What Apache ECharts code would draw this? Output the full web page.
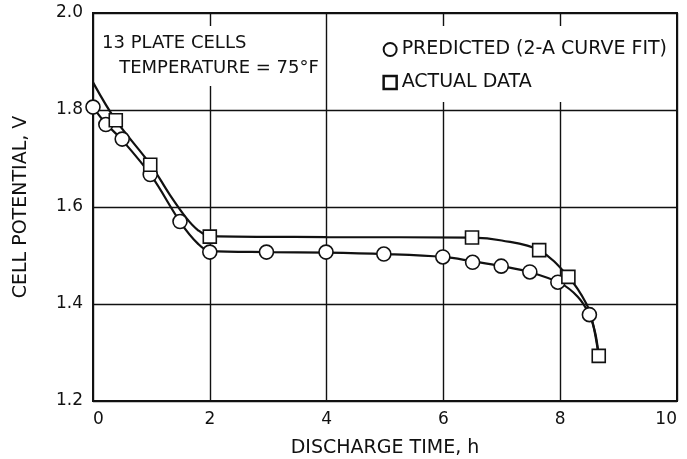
<!DOCTYPE html>
<html>
<head>
<meta charset="utf-8">
<script src="https://cdn.jsdelivr.net/npm/echarts@6/dist/echarts.min.js"></script>
<style>
  html, body { margin: 0; padding: 0; background: #fff; }
  #main { width: 687px; height: 459px; }
</style>
</head>
<body>
<div id="main"></div>
<script>
var predictedPoints = [
    [0.0, 1.806], [0.22, 1.770], [0.5, 1.740], [0.98, 1.667], [1.49, 1.570],
    [2.0, 1.507], [2.97, 1.507], [3.99, 1.507], [4.98, 1.503], [5.99, 1.497],
    [6.5, 1.486], [6.99, 1.478], [7.48, 1.466], [7.96, 1.445], [8.5, 1.378]
];
var actualPoints = [
    [0.39, 1.779], [0.98, 1.687], [2.0, 1.539], [6.49, 1.537],
    [7.64, 1.511], [8.14, 1.456], [8.66, 1.293]
];
// fitted curves
var predictedCurve = [
    [0.0, 1.806], [0.22, 1.772], [0.5, 1.738], [1.0, 1.664], [1.5, 1.568],
    [1.8, 1.524], [2.0, 1.509], [3.0, 1.507], [4.0, 1.506], [5.0, 1.503],
    [6.0, 1.497], [6.5, 1.488], [7.0, 1.478], [7.5, 1.465], [8.0, 1.443],
    [8.3, 1.415], [8.5, 1.378], [8.6, 1.34], [8.66, 1.293]
];
var actualCurve = [
    [0.0, 1.857], [0.39, 1.779], [1.0, 1.685], [1.3, 1.628], [1.6, 1.577],
    [1.8, 1.552], [2.0, 1.540], [4.0, 1.538], [6.5, 1.537], [7.0, 1.531],
    [7.64, 1.511], [8.14, 1.456], [8.45, 1.400], [8.56, 1.36], [8.66, 1.293]
];
var xTicks = [0, 2, 4, 6, 8, 10];
var yTicks = [1.2, 1.4, 1.6, 1.8, 2.0];

var myChart = echarts.init(document.getElementById('main'));
var font = 'DejaVu Sans';

option = {
    backgroundColor: '#fff',
    animation: false,
    textStyle: { fontFamily: font, color: '#111' },
    title: {
        text: '13 PLATE CELLS\n   TEMPERATURE = 75°F',
        left: 98, top: 26,
        backgroundColor: '#fff',
        padding: [5, 4, 5, 4],
        textStyle: { fontFamily: font, fontSize: 18, fontWeight: 'normal', color: '#111', lineHeight: 25 }
    },
    legend: {
        orient: 'vertical',
        right: 20, top: 26,
        backgroundColor: '#fff',
        padding: [14, 0, 10, 8],
        itemGap: 14,
        itemWidth: 13, itemHeight: 13,
        textStyle: { fontFamily: font, fontSize: 19, color: '#111' },
        data: [
            { name: 'PREDICTED (2-A CURVE FIT)', icon: 'circle' },
            { name: 'ACTUAL DATA', icon: 'rect', itemStyle: { borderWidth: 2.5 } }
        ]
    },
    grid: {
        left: 93, right: 10, top: 13, bottom: 58,
        outerBoundsMode: 'none',
        show: true, borderColor: '#111', borderWidth: 2
    },
    xAxis: {
        type: 'value', min: xTicks[0], max: xTicks[xTicks.length - 1], interval: 2,
        name: 'DISCHARGE TIME, h', nameLocation: 'middle', nameGap: 38,
        nameTextStyle: { fontFamily: font, fontSize: 19, color: '#111' },
        axisLine: { lineStyle: { color: '#111', width: 2 } },
        axisTick: { show: false },
        axisLabel: {
            fontFamily: font, fontSize: 17, color: '#111', margin: 10,
            alignMinLabel: 'left', alignMaxLabel: 'right'
        },
        splitLine: { lineStyle: { color: '#111', width: 1.4 } }
    },
    yAxis: {
        type: 'value', min: yTicks[0], max: yTicks[yTicks.length - 1], interval: 0.2,
        name: 'CELL POTENTIAL, V', nameLocation: 'middle', nameGap: 62, nameRotate: 90,
        nameTextStyle: { fontFamily: font, fontSize: 19, color: '#111' },
        axisLine: { lineStyle: { color: '#111', width: 2 } },
        axisTick: { show: false },
        axisLabel: {
            fontFamily: font, fontSize: 17, color: '#111', margin: 10,
            formatter: function (v) { return v.toFixed(1); }
        },
        splitLine: { lineStyle: { color: '#111', width: 1.4 } }
    },
    series: [
        {
            name: 'predicted-curve', type: 'line', data: predictedCurve, smooth: 0.35,
            showSymbol: false, silent: true, z: 2,
            lineStyle: { color: '#111', width: 2.2 }
        },
        {
            name: 'actual-curve', type: 'line', data: actualCurve, smooth: 0.35,
            showSymbol: false, silent: true, z: 2,
            lineStyle: { color: '#111', width: 2.2 }
        },
        {
            name: 'PREDICTED (2-A CURVE FIT)', type: 'scatter', data: predictedPoints,
            symbol: 'circle', symbolSize: 14, z: 3,
            itemStyle: { color: '#fff', borderColor: '#111', borderWidth: 1.6, opacity: 1 }
        },
        {
            name: 'ACTUAL DATA', type: 'scatter', data: actualPoints,
            symbol: 'rect', symbolSize: 13, z: 4,
            itemStyle: { color: '#fff', borderColor: '#111', borderWidth: 1.6, opacity: 1 }
        }
    ]
};

myChart.setOption(option);
</script>
</body>
</html>
